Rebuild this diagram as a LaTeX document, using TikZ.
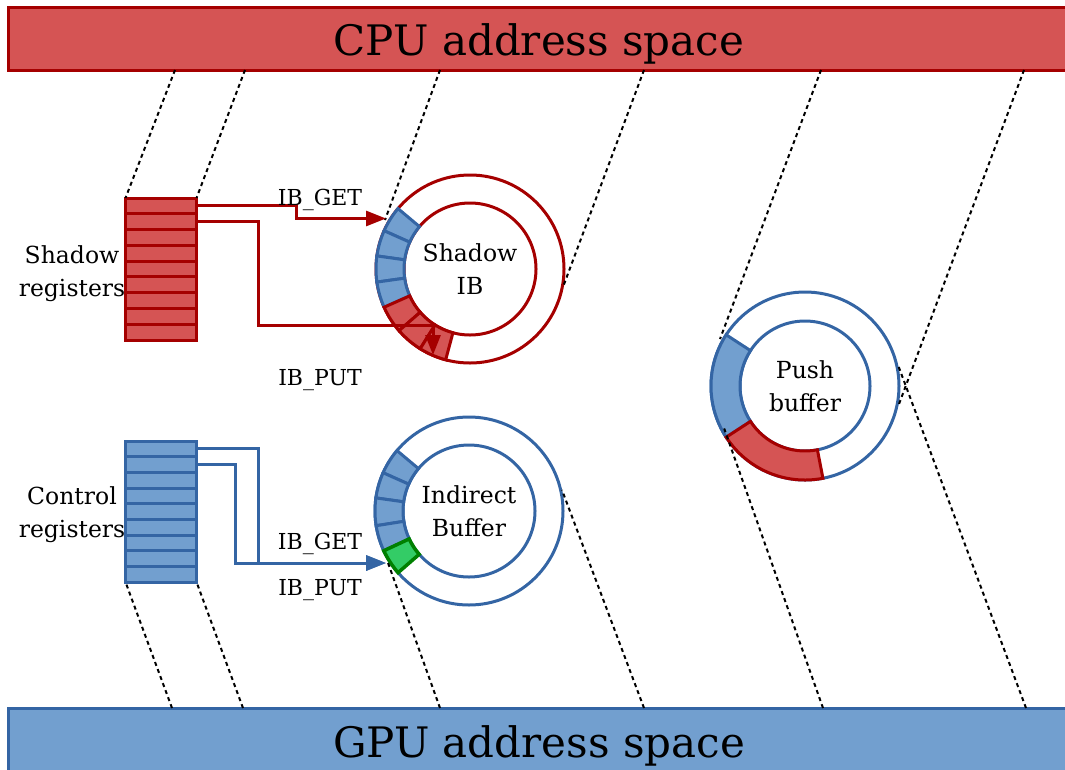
\documentclass[tikz,border=0pt]{standalone}
\usepackage{fontspec}
\setmainfont{DejaVu Serif}
\usetikzlibrary{arrows.meta,calc}

\definecolor{redfill}{RGB}{213,84,84}
\definecolor{redline}{RGB}{165,0,0}
\definecolor{bluefill}{RGB}{114,159,207}
\definecolor{blueline}{RGB}{52,101,164}
\definecolor{greenfill}{RGB}{51,204,102}
\definecolor{greenline}{RGB}{0,128,0}

% one cell of a ring buffer: style, centre, from angle, to angle, inner r, outer r
\newcommand\ringcell[6]{%
  \draw[#1] ($(#2)+(-#3:#6)$) arc[start angle=-#3,end angle=-#4,radius=#6]
    -- ($(#2)+(-#4:#5)$) arc[start angle=-#4,end angle=-#3,radius=#5] -- cycle;}

\tikzset{
  every node/.style={inner sep=0pt, outer sep=0pt},
  redbar/.style={draw=redline, fill=redfill, line width=3pt},
  bluebar/.style={draw=blueline, fill=bluefill, line width=3pt},
  bigtext/.style={font=\fontsize{42}{50}\selectfont, anchor=base},
  lbl/.style={font=\fontsize{23.5}{33}\selectfont, align=center},
  tag/.style={font=\fontsize{22}{33}\selectfont, anchor=base},
  regR/.style={draw=redline, fill=redfill, line width=3pt, minimum width=71pt, minimum height=142pt},
  regB/.style={draw=blueline, fill=bluefill, line width=3pt, minimum width=71pt, minimum height=141pt},
  rowR/.style={redline, line width=3pt},
  rowB/.style={blueline, line width=3pt},
  ringR/.style={circle, draw=redline, line width=3pt},
  ringB/.style={circle, draw=blueline, line width=3pt},
  cellB/.style={draw=blueline, fill=bluefill, line width=3pt},
  cellR/.style={draw=redline, fill=redfill, line width=3pt},
  cellG/.style={draw=greenline, fill=greenfill, line width=3.5pt},
  wireR/.style={draw=redline, line width=3pt, -{Triangle[length=20pt,width=15pt]}},
  wireB/.style={draw=blueline, line width=3pt, -{Triangle[length=20pt,width=15pt]}},
  guide/.style={black, line width=2pt, dash pattern=on 4pt off 3.5pt},
}

\begin{document}
\begin{tikzpicture}[x=1pt, y=-1pt]
\useasboundingbox (0,0) rectangle (1065,769);

% address space bars
\node[redbar, anchor=north west, minimum width=1067pt, minimum height=63pt] (cpu) at (8,7) {};
\node[bigtext] (cputxt) at (539,55) {CPU address space};
\node[bluebar, anchor=north west, minimum width=1067pt, minimum height=70pt] (gpu) at (8,708) {};
\node[bigtext] (gputxt) at (539,757) {GPU address space};

% register files
\node[regR] (sreg) at (161,269) {};
\foreach \i in {1,...,8}{
  \draw[rowR] ($(sreg.north west)!\i/9!(sreg.south west)$) -- ($(sreg.north east)!\i/9!(sreg.south east)$);}
\node[regB] (creg) at (161,511.5) {};
\foreach \i in {1,...,8}{
  \draw[rowB] ($(creg.north west)!\i/9!(creg.south west)$) -- ($(creg.north east)!\i/9!(creg.south east)$);}
\node[lbl] (slbl) at (72,273.5) {Shadow\\registers};
\node[lbl] (clbl) at (72,515) {Control\\registers};

% ring buffers
\node[ringR, minimum size=188pt] (sib) at (470,269) {};
\node[ringR, minimum size=132pt] (sibin) at (470,269) {};
\node[ringB, minimum size=188pt] (ib) at (469,511) {};
\node[ringB, minimum size=132pt] (ibin) at (469,511) {};
\node[ringB, minimum size=188pt] (pb) at (805,386) {};
\node[ringB, minimum size=130pt] (pbin) at (805,386) {};

\foreach \a/\b in {140/156,156/172,172/188,188/204}{
  \ringcell{cellB}{sib.center}{\a}{\b}{66}{94}}
\foreach \a/\b in {204/221,221/238,238/255}{
  \ringcell{cellR}{sib.center}{\a}{\b}{66}{94}}
\foreach \a/\b in {140/156,156/172,172/189,189/205}{
  \ringcell{cellB}{ib.center}{\a}{\b}{66}{94}}
\ringcell{cellG}{ib.center}{205}{221}{66}{94}
\ringcell{cellB}{pb.center}{147}{213}{65}{94}
\ringcell{cellR}{pb.center}{213}{281}{65}{94}

\node[lbl] (sibtxt) at (sibin.center) {Shadow\\IB};
\node[lbl] (ibtxt) at (ibin.center) {Indirect\\Buffer};
\node[lbl] (pbtxt) at (pbin.center) {Push\\buffer};

% mapping guides between the address spaces
\coordinate (ta) at (175,70);  \coordinate (tb) at (245,70);
\coordinate (tc) at (440,70);  \coordinate (td) at (644,70);
\coordinate (te) at (821,70);  \coordinate (tf) at (1024,70);
\coordinate (ba) at (172,708); \coordinate (bb) at (243,708);
\coordinate (bc) at (440,708); \coordinate (bd) at (644,708);
\coordinate (be) at (823,708); \coordinate (bf) at (1026,708);
\coordinate (sibtop) at (385,220);  \coordinate (sibside) at (563,287);
\coordinate (ibbot) at (387,560);   \coordinate (ibside) at (562,490);
\coordinate (pbtop) at (720,339);   \coordinate (pbbot) at (724,428);
\coordinate (pbsideA) at (899,404); \coordinate (pbsideB) at (898,365);
\draw[guide] (ta) -- (sreg.north west);
\draw[guide] (tb) -- (sreg.north east);
\draw[guide] (tc) -- (sibtop);
\draw[guide] (td) -- (sibside);
\draw[guide] (te) -- (pbtop);
\draw[guide] (tf) -- (pbsideA);
\draw[guide] (ba) -- (creg.south west);
\draw[guide] (bb) -- (creg.south east);
\draw[guide] (bc) -- (ibbot);
\draw[guide] (bd) -- (ibside);
\draw[guide] (be) -- (pbbot);
\draw[guide] (bf) -- (pbsideB);

% register pointers
\coordinate (sget) at ($(sreg.north east)!0.5/9!(sreg.south east)$);
\coordinate (sput) at ($(sreg.north east)!1.5/9!(sreg.south east)$);
\coordinate (sgetend) at (386,218.5);
\coordinate (sputbend) at (433,325);
\coordinate (sputend) at (433,355);
\draw[wireR] (sget) -- ++(100,0) |- (sgetend);
\draw[wireR] (sput) -- ++(62,0) |- (sputbend) -- (sputend);
\node[tag] (sgettag) at (320,205) {IB\_GET};
\node[tag] (sputtag) at (320,385) {IB\_PUT};

\coordinate (cget) at ($(creg.north east)!0.5/9!(creg.south east)$);
\coordinate (cput) at ($(creg.north east)!1.5/9!(creg.south east)$);
\coordinate (ibend) at (386,563);
\draw[wireB] (cget) -- ++(62,0) |- (ibend);
\draw[wireB] (cput) -- ++(39,0) |- (ibend);
\node[tag] (cgettag) at (320,549) {IB\_GET};
\node[tag] (cputtag) at (320,595) {IB\_PUT};
\end{tikzpicture}
\end{document}
